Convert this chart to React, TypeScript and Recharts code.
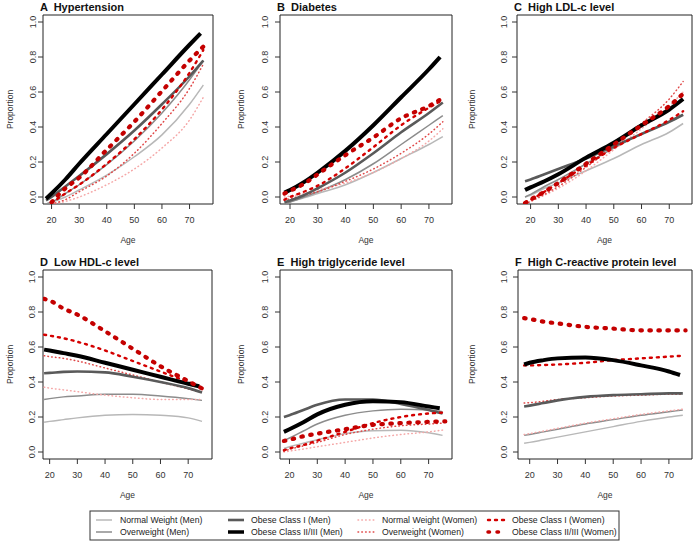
import React from 'react';
import { LineChart, Line, XAxis, YAxis, ReferenceArea } from 'recharts';

const FONT = "'Liberation Sans', Arial, Helvetica, sans-serif";

const AGES = [18, 20, 25, 30, 40, 50, 60, 70, 74, 75, 76];
const X_TICKS = [20, 30, 40, 50, 60, 70];
const Y_TICKS = [0, 0.2, 0.4, 0.6, 0.8, 1.0];

// A Hypertension
const HYPERTENSION = {
  nwM: [-0.04, -0.03, 0.0, 0.04, 0.125, 0.23, 0.355, 0.53, null, 0.64, null],
  owM: [-0.04, -0.03, 0.02, 0.07, 0.185, 0.32, 0.48, 0.67, null, 0.78, null],
  o1M: [-0.02, 0.0, 0.06, 0.12, 0.245, 0.38, 0.53, 0.69, null, 0.78, null],
  o23M: [-0.01, 0.02, 0.1, 0.19, 0.36, 0.53, 0.7, 0.87, 0.935, null, null],
  nwW: [null, -0.04, -0.025, 0.0, 0.07, 0.16, 0.28, 0.44, null, 0.57, null],
  owW: [null, -0.04, -0.015, 0.03, 0.12, 0.25, 0.42, 0.62, null, 0.76, null],
  o1W: [null, -0.035, 0.02, 0.07, 0.19, 0.33, 0.5, 0.71, null, 0.84, null],
  o23W: [null, -0.03, 0.05, 0.11, 0.27, 0.43, 0.605, 0.78, null, 0.86, null],
};

// B Diabetes
const DIABETES = {
  nwM: [-0.03, -0.025, -0.005, 0.02, 0.07, 0.14, 0.22, 0.3, null, 0.345, null],
  owM: [-0.04, -0.03, 0.0, 0.03, 0.1, 0.19, 0.3, 0.41, null, 0.465, null],
  o1M: [-0.03, -0.02, 0.01, 0.05, 0.14, 0.25, 0.37, 0.48, null, 0.54, null],
  o23M: [0.025, 0.04, 0.085, 0.14, 0.265, 0.41, 0.57, 0.73, 0.8, null, null],
  nwW: [0.0, 0.005, 0.02, 0.04, 0.08, 0.14, 0.22, 0.32, null, 0.39, null],
  owW: [-0.02, -0.01, 0.01, 0.03, 0.09, 0.16, 0.25, 0.36, null, 0.43, null],
  o1W: [-0.015, 0.0, 0.03, 0.065, 0.165, 0.285, 0.41, 0.51, null, 0.555, null],
  o23W: [0.02, 0.035, 0.075, 0.13, 0.24, 0.34, 0.45, 0.52, null, null, 0.575],
};

// C High LDL-c level
const LDL = {
  nwM: [0.0, 0.01, 0.05, 0.08, 0.15, 0.22, 0.3, 0.37, null, 0.42, null],
  owM: [0.0, 0.015, 0.06, 0.1, 0.19, 0.28, 0.36, 0.43, null, 0.47, null],
  o1M: [0.09, 0.1, 0.13, 0.16, 0.22, 0.29, 0.36, 0.43, null, 0.47, null],
  o23M: [0.04, 0.055, 0.09, 0.13, 0.225, 0.31, 0.41, 0.5, null, 0.56, null],
  nwW: [-0.04, -0.025, 0.01, 0.05, 0.15, 0.27, 0.39, 0.52, null, 0.6, null],
  owW: [-0.04, -0.025, 0.015, 0.06, 0.17, 0.29, 0.42, 0.56, null, 0.66, null],
  o1W: [-0.03, -0.015, 0.03, 0.08, 0.18, 0.28, 0.36, 0.44, null, 0.49, null],
  o23W: [-0.035, -0.015, 0.03, 0.08, 0.19, 0.3, 0.41, 0.52, null, 0.59, null],
};

// D Low HDL-c level
const HDL = {
  nwM: [0.17, 0.175, 0.185, 0.195, 0.21, 0.215, 0.21, 0.195, null, 0.175, null],
  owM: [0.3, 0.305, 0.315, 0.32, 0.33, 0.33, 0.32, 0.305, null, 0.295, null],
  o1M: [0.45, 0.452, 0.458, 0.46, 0.455, 0.43, 0.4, 0.365, null, 0.34, null],
  o23M: [0.585, 0.58, 0.565, 0.55, 0.51, 0.47, 0.43, 0.39, 0.375, null, null],
  nwW: [0.37, 0.365, 0.355, 0.345, 0.325, 0.31, 0.3, 0.3, null, 0.3, null],
  owW: [0.55, 0.545, 0.535, 0.52, 0.48, 0.44, 0.4, 0.36, null, 0.34, null],
  o1W: [0.67, 0.665, 0.65, 0.63, 0.58, 0.52, 0.46, 0.4, null, 0.37, null],
  o23W: [0.875, 0.865, 0.82, 0.785, 0.69, 0.59, 0.49, 0.405, null, null, 0.355],
};

// E High triglyceride level
const TRIG = {
  nwM: [0.02, 0.03, 0.05, 0.07, 0.105, 0.122, 0.125, 0.11, null, 0.095, null],
  owM: [0.065, 0.08, 0.12, 0.16, 0.21, 0.235, 0.245, 0.24, null, 0.23, null],
  o1M: [0.2, 0.21, 0.24, 0.27, 0.3, 0.3, 0.275, 0.24, null, 0.22, null],
  o23M: [0.115, 0.13, 0.17, 0.215, 0.27, 0.29, 0.285, 0.26, 0.25, null, null],
  nwW: [0.0, 0.005, 0.017, 0.03, 0.055, 0.08, 0.1, 0.115, null, 0.125, null],
  owW: [0.005, 0.015, 0.035, 0.055, 0.1, 0.13, 0.15, 0.16, null, 0.165, null],
  o1W: [0.01, 0.02, 0.04, 0.065, 0.115, 0.165, 0.2, 0.22, null, 0.225, null],
  o23W: [0.063, 0.07, 0.09, 0.105, 0.13, 0.155, 0.165, 0.172, null, null, 0.175],
};

// F High C-reactive protein level
const CRP = {
  nwM: [0.05, 0.055, 0.07, 0.085, 0.115, 0.145, 0.175, 0.2, null, 0.21, null],
  owM: [0.095, 0.1, 0.115, 0.13, 0.16, 0.185, 0.21, 0.23, null, 0.24, null],
  o1M: [0.26, 0.265, 0.28, 0.295, 0.315, 0.325, 0.33, 0.335, null, 0.335, null],
  o23M: [0.5, 0.51, 0.525, 0.535, 0.54, 0.525, 0.495, 0.46, 0.44, null, null],
  nwW: [0.1, 0.105, 0.12, 0.135, 0.165, 0.19, 0.215, 0.235, null, 0.245, null],
  owW: [0.28, 0.282, 0.29, 0.3, 0.31, 0.32, 0.325, 0.33, null, 0.33, null],
  o1W: [0.495, 0.495, 0.497, 0.5, 0.51, 0.525, 0.535, 0.545, null, 0.55, null],
  o23W: [0.765, 0.76, 0.745, 0.735, 0.715, 0.705, 0.695, 0.695, null, null, 0.695],
};

const SERIES_NAMES = {
  nwM: 'Normal Weight (Men)',
  owM: 'Overweight (Men)',
  o1M: 'Obese Class I (Men)',
  o23M: 'Obese Class II/III (Men)',
  nwW: 'Normal Weight (Women)',
  owW: 'Overweight (Women)',
  o1W: 'Obese Class I (Women)',
  o23W: 'Obese Class II/III (Women)',
};

const STYLES: Record<string, { color: string; width: number; dash?: string; cap?: 'round' | 'butt' }> = {
  nwM: { color: '#b8b8b8', width: 1.5 },
  owM: { color: '#8c8c8c', width: 1.5 },
  o1M: { color: '#5a5a5a', width: 2.6 },
  o23M: { color: '#000000', width: 4 },
  nwW: { color: '#f5a8a8', width: 1.5, dash: '0.6 3.2', cap: 'round' },
  owW: { color: '#e04848', width: 1.5, dash: '0.6 3.2', cap: 'round' },
  o1W: { color: '#d40000', width: 2.4, dash: '2 5', cap: 'round' },
  o23W: { color: '#c40000', width: 4.2, dash: '1.5 7.5', cap: 'round' },
};

const DRAW_ORDER = ['nwM', 'owM', 'nwW', 'owW', 'o1M', 'o1W', 'o23M', 'o23W'];
const LEGEND_COLS = [['nwM', 'owM'], ['o1M', 'o23M'], ['nwW', 'owW'], ['o1W', 'o23W']];

type Panel = {
  title: string;
  data: Record<string, (number | null)[]>;
  rx: number; ry: number; rw: number; rh: number;
  bl: number; br: number; bt: number; bb: number;
  xDom: [number, number];
  yLabX: number;
};

const PANELS: Panel[] = [
  { title: 'A  Hypertension', data: HYPERTENSION, rx: 0, ry: 0, rw: 231, rh: 250, bl: 43, br: 213, bt: 15, bb: 204, xDom: [16.9, 78.5], yLabX: 32.5 },
  { title: 'B  Diabetes', data: DIABETES, rx: 231, ry: 0, rw: 231, rh: 250, bl: 280, br: 452, bt: 15, bb: 204, xDom: [16.4, 78.3], yLabX: 264.3 },
  { title: 'C  High LDL-c level', data: LDL, rx: 462, ry: 0, rw: 231, rh: 250, bl: 517, br: 692, bt: 15, bb: 204, xDom: [15.1, 78.2], yLabX: 504 },
  { title: 'D  Low HDL-c level', data: HDL, rx: 0, ry: 250, rw: 231, rh: 250, bl: 43, br: 212, bt: 270, bb: 459, xDom: [17.6, 78.6], yLabX: 32 },
  { title: 'E  High triglyceride level', data: TRIG, rx: 231, ry: 250, rw: 231, rh: 250, bl: 280, br: 452, bt: 270, bb: 459, xDom: [16.6, 78.4], yLabX: 264.3 },
  { title: 'F  High C-reactive protein level', data: CRP, rx: 462, ry: 250, rw: 231, rh: 250, bl: 518, br: 692, bt: 270, bb: 459, xDom: [15.8, 78.3], yLabX: 503.7 },
];

const Y_DOM: [number, number] = [-0.04, 1.04];

function buildRows(d: Record<string, (number | null)[]>) {
  return AGES.map((age, i) => {
    const row: Record<string, number | null> = { age };
    Object.keys(d).forEach((k) => { row[k] = d[k][i]; });
    return row;
  });
}

function PanelChart({ p }: { p: Panel }) {
  const rows = buildRows(p.data);
  const yAxisW = p.bl - p.rx;
  const xAxisH = p.ry + p.rh - p.bb;
  const baselineOffset = p.yLabX + 3.2 - (p.bl - 5);
  const XTick = (props: any) => {
    const { x, y, payload } = props;
    return (
      <text x={x} y={y + 14} textAnchor="middle" fontSize={9} fill="#333" fontFamily={FONT}>
        {payload.value}
      </text>
    );
  };
  const YTick = (props: any) => {
    const { x, y, payload } = props;
    const bx = x + baselineOffset;
    return (
      <text x={bx} y={y} transform={`rotate(-90, ${bx}, ${y})`} textAnchor="middle" fontSize={9} fill="#333" fontFamily={FONT}>
        {Number(payload.value).toFixed(1)}
      </text>
    );
  };
  return (
    <div style={{ position: 'absolute', left: p.rx, top: p.ry }}>
      <LineChart
        width={p.rw}
        height={p.rh}
        data={rows}
        margin={{ top: p.bt - p.ry, right: p.rx + p.rw - p.br, bottom: 0, left: 0 }}
      >
        <XAxis
          dataKey="age"
          type="number"
          domain={p.xDom}
          allowDataOverflow
          ticks={X_TICKS}
          height={xAxisH}
          axisLine={false}
          tickLine={{ stroke: '#333' }}
          tickSize={5}
          tickMargin={0}
          tick={XTick}
          interval={0}
        />
        <YAxis
          type="number"
          domain={Y_DOM}
          allowDataOverflow
          ticks={Y_TICKS}
          width={yAxisW}
          axisLine={false}
          tickLine={{ stroke: '#333' }}
          tickSize={5}
          tickMargin={0}
          tick={YTick}
          interval={0}
        />
        {DRAW_ORDER.map((k) => (
          <Line
            key={k}
            dataKey={k}
            name={SERIES_NAMES[k as keyof typeof SERIES_NAMES]}
            type="monotone"
            stroke={STYLES[k].color}
            strokeWidth={STYLES[k].width}
            strokeDasharray={STYLES[k].dash}
            strokeLinecap={STYLES[k].cap || 'butt'}
            dot={false}
            activeDot={false}
            connectNulls
            isAnimationActive={false}
          />
        ))}
        <ReferenceArea
          x1={p.xDom[0]}
          x2={p.xDom[1]}
          y1={Y_DOM[0]}
          y2={Y_DOM[1]}
          fill="none"
          fillOpacity={0}
          stroke="#222"
          strokeWidth={1}
          ifOverflow="visible"
        />
      </LineChart>
    </div>
  );
}

function Overlay() {
  const legendX = [{ l: 96, t: 120 }, { l: 228, t: 251 }, { l: 358, t: 382 }, { l: 488, t: 512 }];
  const legendY = [520, 532];
  return (
    <svg width={693} height={546} style={{ position: 'absolute', left: 0, top: 0, pointerEvents: 'none' }}>
      {PANELS.map((p) => {
        const cx = (p.bl + p.br) / 2;
        const cy = (p.bt + p.bb) / 2;
        const px = p.rx + 10;
        return (
          <g key={p.title}>
            <text x={p.bl - 3} y={p.bt - 4} fontSize={11} fontWeight="bold" fill="#111" fontFamily={FONT} xmlSpace="preserve" style={{ whiteSpace: 'pre' }}>
              {p.title}
            </text>
            <text x={cx} y={p.bb + 36} dy="0.35em" textAnchor="middle" fontSize={8.5} fill="#333" fontFamily={FONT}>
              Age
            </text>
            <text x={px} y={cy} dy="0.35em" transform={`rotate(-90, ${px}, ${cy})`} textAnchor="middle" fontSize={8.5} fill="#333" fontFamily={FONT}>
              Proportion
            </text>
          </g>
        );
      })}
      <rect x={90} y={511} width={529} height={29} fill="none" stroke="#333" strokeWidth={1} />
      {LEGEND_COLS.map((col, ci) =>
        col.map((k, ri) => {
          const s = STYLES[k];
          const y = legendY[ri];
          return (
            <g key={k}>
              <line x1={legendX[ci].l} x2={legendX[ci].l + 16} y1={y} y2={y} stroke={s.color} strokeWidth={Math.min(s.width, 3.5)} strokeDasharray={s.dash} strokeLinecap={s.cap || 'butt'} />
              <text x={legendX[ci].t} y={y} dy="0.35em" fontSize={8.7} fill="#222" fontFamily={FONT}>
                {SERIES_NAMES[k as keyof typeof SERIES_NAMES]}
              </text>
            </g>
          );
        })
      )}
    </svg>
  );
}

export default function App() {
  return (
    <div style={{ position: 'absolute', left: 0, top: 0, width: 693, height: 546, background: '#fff', overflow: 'hidden' }}>
      {PANELS.map((p) => (
        <PanelChart key={p.title} p={p} />
      ))}
      <Overlay />
    </div>
  );
}
